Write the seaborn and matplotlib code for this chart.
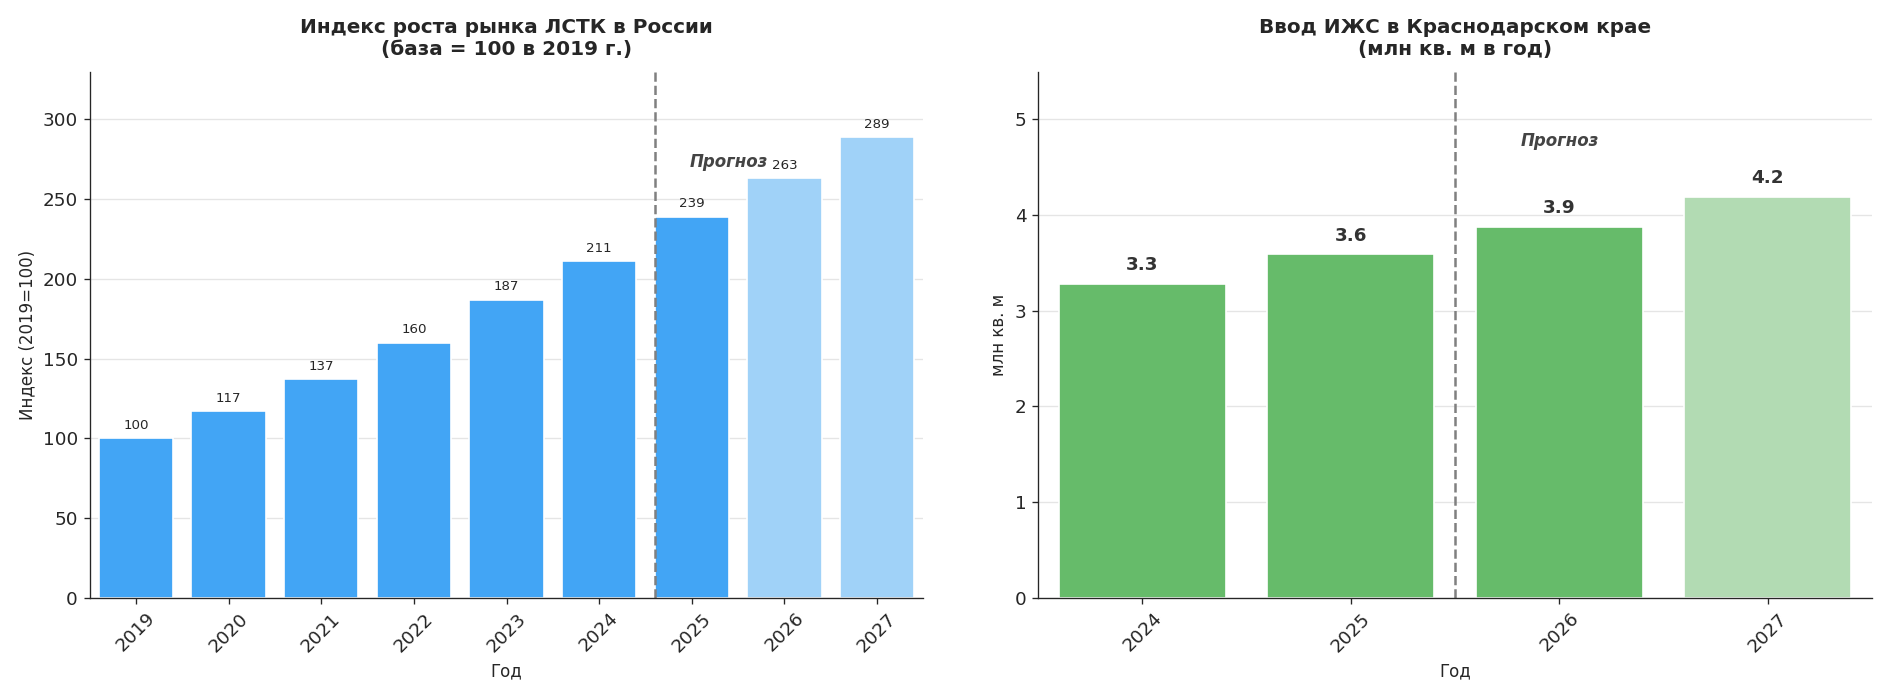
import pandas as pd
import seaborn as sns
import matplotlib.pyplot as plt

sns.set_style("ticks")
plt.rcParams['font.family'] = ['DejaVu Sans']

# Left chart data
years_idx = ["2019", "2020", "2021", "2022", "2023", "2024", "2025", "2026", "2027"]
index_vals = [100, 117, 137, 160, 187, 211, 239, 263, 289]
index_labels = ["100", "117", "137", "160", "187", "211", "239", "263", "289"]
forecast_idx = [False] * 7 + [True] * 2

# Right chart data
years_izs = ["2024", "2025", "2026", "2027"]
izs_vals = [3.28, 3.59, 3.88, 4.19]
izs_labels = ["3.3", "3.6", "3.9", "4.2"]
forecast_izs = [False, False, False, True]

fig, (ax1, ax2) = plt.subplots(1, 2, figsize=(15.75, 5.817), dpi=120)

# Left
df1 = pd.DataFrame({"year": years_idx, "val": index_vals, "fc": forecast_idx})
sns.barplot(data=df1, x="year", y="val", hue="fc", dodge=False, width=0.8,
            palette={False: "#42A5F5", True: "#A0D2F8"}, legend=False, ax=ax1, saturation=1)
for i, (v, lab) in enumerate(zip(index_vals, index_labels)):
    ax1.text(i, v + 4, lab, ha="center", va="bottom", fontsize=8)
ax1.axvline(5.6, color="gray", linestyle="--", linewidth=1.5)
ax1.text(6.4, 268, "Прогноз", ha="center", va="bottom", fontsize=10,
         fontstyle="italic", fontweight="bold", color="#444444")
ax1.set_ylim(0, 330)
ax1.set_title("Индекс роста рынка ЛСТК в России\n(база = 100 в 2019 г.)",
              fontsize=12, fontweight="bold", pad=10)
ax1.set_xlabel("Год", fontsize=10)
ax1.set_ylabel("Индекс (2019=100)", fontsize=10)
ax1.tick_params(axis="x", rotation=45, labelsize=11)
ax1.tick_params(axis="y", labelsize=11)
ax1.yaxis.grid(True, color="#e5e5e5")
ax1.set_axisbelow(True)

# Right
df2 = pd.DataFrame({"year": years_izs, "val": izs_vals, "fc": forecast_izs})
sns.barplot(data=df2, x="year", y="val", hue="fc", dodge=False, width=0.8,
            palette={False: "#66BB6A", True: "#B2DBB3"}, legend=False, ax=ax2, saturation=1)
for i, (v, lab) in enumerate(zip(izs_vals, izs_labels)):
    ax2.text(i, v + 0.1, lab, ha="center", va="bottom", fontsize=11,
             fontweight="bold", color="#333333")
ax2.axvline(1.5, color="gray", linestyle="--", linewidth=1.5)
ax2.text(2, 4.68, "Прогноз", ha="center", va="bottom", fontsize=10,
         fontstyle="italic", fontweight="bold", color="#444444")
ax2.set_ylim(0, 5.5)
ax2.set_title("Ввод ИЖС в Краснодарском крае\n(млн кв. м в год)",
              fontsize=12, fontweight="bold", pad=10)
ax2.set_xlabel("Год", fontsize=10)
ax2.set_ylabel("млн кв. м", fontsize=10)
ax2.tick_params(axis="x", rotation=45, labelsize=11)
ax2.tick_params(axis="y", labelsize=11)
ax2.yaxis.grid(True, color="#e5e5e5")
ax2.set_axisbelow(True)

sns.despine()
plt.tight_layout(w_pad=4)
plt.savefig("out.png", dpi=120)
